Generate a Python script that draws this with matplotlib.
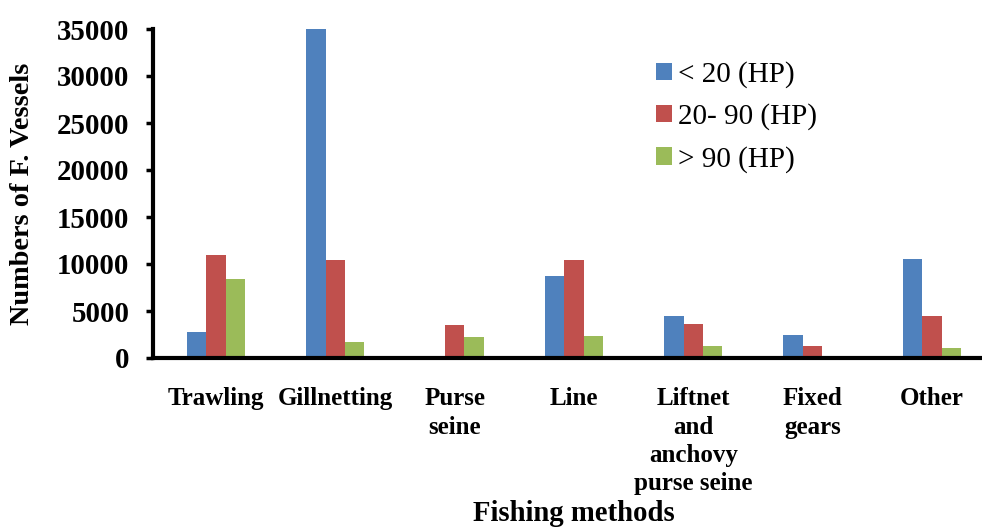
import numpy as np
import matplotlib
matplotlib.use("Agg")
import matplotlib.pyplot as plt

plt.rcParams['font.family'] = ['Liberation Serif', 'DejaVu Serif']

categories = ["Trawling", "Gillnetting", "Purse\nseine", "Line",
              "Liftnet\nand\nanchovy\npurse seine", "Fixed\ngears", "Other"]
series_names = ["< 20 (HP)", "20- 90 (HP)", "> 90 (HP)"]
below_20 = [2800, 35000, 0, 8700, 4500, 2500, 10500]
from_20_to_90 = [11000, 10400, 3500, 10400, 3600, 1300, 4500]
above_90 = [8400, 1700, 2200, 2300, 1300, 0, 1050]
y_ticks = [0, 5000, 10000, 15000, 20000, 25000, 30000, 35000]

colors = ["#4F81BD", "#C0504D", "#9BBB59"]

W, H = 982, 528
fig = plt.figure(figsize=(W / 100, H / 100), dpi=100)
ax = fig.add_axes([153 / W, (H - 358) / H, (W - 153) / W, 329 / H])

x = np.arange(len(categories))
bw = 0.163
for i, (vals, name, c) in enumerate(zip([below_20, from_20_to_90, above_90],
                                         series_names, colors)):
    ax.bar(x + (i - 1) * bw, vals, width=bw, color=c, label=name,
           edgecolor='none')

ax.set_xlim(-0.528, 6.42)
ax.set_ylim(0, 35000)
ax.set_yticks(y_ticks)
ax.set_yticklabels([str(v) for v in y_ticks], fontsize=20.8, fontweight='bold')
ax.set_xticks(x)
ax.set_xticklabels(categories, fontsize=18, fontweight='bold', linespacing=1.3)

for s in ['top', 'right']:
    ax.spines[s].set_visible(False)
for s in ['left', 'bottom']:
    ax.spines[s].set_linewidth(3.0)
ax.tick_params(axis='y', length=5, width=2.5, pad=12, direction='out')
ax.tick_params(axis='x', length=0, pad=21)

fig.text(23 / W, 1 - 193.5 / H, "Numbers of F. Vessels", rotation=90,
         ha='center', va='center', fontsize=20.3, fontweight='bold')
fig.text(574 / W, (H - 521) / H, "Fishing methods", ha='center',
         va='baseline', fontsize=20.7, fontweight='bold')

leg = ax.legend(loc='upper left', bbox_to_anchor=(503 / (W - 153), 1 - 32 / 329),
                frameon=False, fontsize=21, handlelength=0.55,
                handleheight=0.55, handletextpad=0.2, labelspacing=0.53,
                borderaxespad=0, borderpad=0)

fig.savefig("out.png", dpi=100)
